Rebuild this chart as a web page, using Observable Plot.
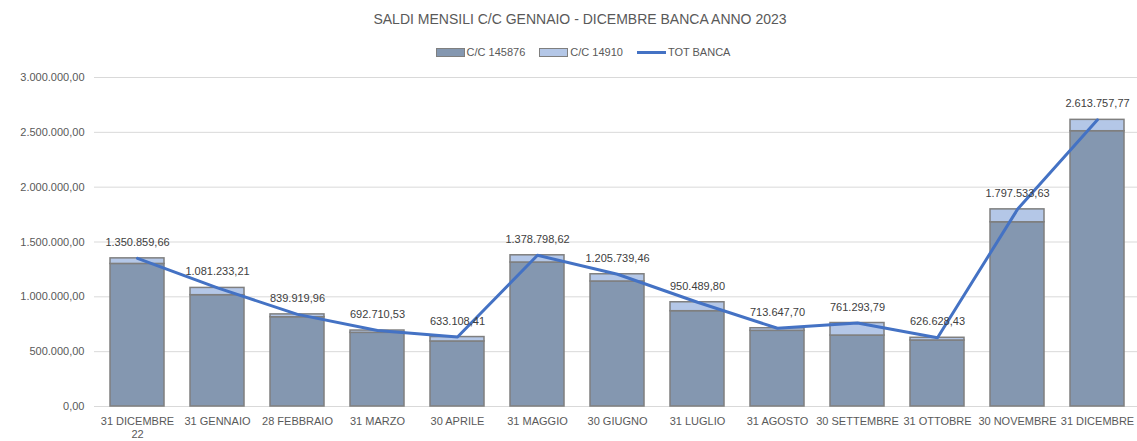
<!DOCTYPE html>
<html>
<head>
<meta charset="utf-8">
<script src="https://cdn.jsdelivr.net/npm/d3@7"></script>
<script src="https://cdn.jsdelivr.net/npm/@observablehq/plot@0.6"></script>
<style>
  body { margin: 0; background: #fff; font-family: "Liberation Sans", Arial, sans-serif; }
  #wrap { position: relative; width: 1137px; height: 441px; overflow: hidden; }
  #title { position: absolute; left: 0; top: 10px; width: 1160px; text-align: center; font-size: 14px; color: #595959; line-height: 18px; }
  #legend { position: absolute; left: 0; top: 45px; width: 1166px; display: flex; justify-content: center; gap: 14px; font-size: 11px; color: #595959; line-height: 14px; }
  .item { display: flex; align-items: center; }
  .sw { width: 27px; height: 7px; border: 1px solid #7f7f7f; margin-right: 2px; }
  .ln { width: 29px; height: 3px; background: #4472C4; margin-right: 2px; }
  #chart { position: absolute; left: 0; top: 65px; }
</style>
</head>
<body>
<div id="wrap">
  <div id="title">SALDI MENSILI C/C GENNAIO - DICEMBRE BANCA ANNO 2023</div>
  <div id="legend"></div>
  <div id="chart"></div>
</div>
<script>
const categories = ["31 DICEMBRE\n22", "31 GENNAIO", "28 FEBBRAIO", "31 MARZO", "30 APRILE", "31 MAGGIO", "30 GIUGNO", "31 LUGLIO", "31 AGOSTO", "30 SETTEMBRE", "31 OTTOBRE", "30 NOVEMBRE", "31 DICEMBRE"];
const cc145876 = [1300000, 1015000, 814000, 672000, 593000, 1313000, 1140000, 869000, 690000, 647000, 602000, 1680000, 2510000];
const cc14910 = [50860, 66233, 25920, 20711, 40108, 65799, 65739, 81490, 23648, 114294, 24628, 117534, 103758];
const totBanca = [1350859.66, 1081233.21, 839919.96, 692710.53, 633108.41, 1378798.62, 1205739.46, 950489.80, 713647.70, 761293.79, 626628.43, 1797533.63, 2613757.77];
const yTicks = [0, 500000, 1000000, 1500000, 2000000, 2500000, 3000000];
const seriesNames = ["C/C 145876", "C/C 14910", "TOT BANCA"];
const seriesColors = ["#8497B0", "#B4C7E7", "#4472C4"];

const it = d3.formatLocale({decimal: ",", thousands: ".", grouping: [3], currency: ["", "€"]});
const fmt = it.format(",.2f");

const barRows = [];
categories.forEach((c, i) => {
  barRows.push({cat: c, series: seriesNames[0], value: cc145876[i]});
  barRows.push({cat: c, series: seriesNames[1], value: cc14910[i]});
});
const lineRows = categories.map((c, i) => ({cat: c, value: totBanca[i]}));

// legend
const legend = document.getElementById("legend");
seriesNames.forEach((n, i) => {
  const item = document.createElement("div");
  item.className = "item";
  const sw = document.createElement("div");
  if (i < 2) { sw.className = "sw"; sw.style.background = seriesColors[i]; }
  else { sw.className = "ln"; }
  item.appendChild(sw);
  const t = document.createElement("span");
  t.textContent = n;
  item.appendChild(t);
  legend.appendChild(item);
});

const chart = Plot.plot({
  width: 1137,
  height: 376,
  marginLeft: 94,
  marginRight: -3,
  marginTop: 12,
  marginBottom: 35,
  style: {fontFamily: "'Liberation Sans', Arial, sans-serif", fontSize: "11px", color: "#595959", background: "white", overflow: "visible"},
  x: {domain: categories, paddingInner: 0.32, paddingOuter: 0.16, label: null},
  y: {domain: [0, 3000000], label: null},
  color: {domain: seriesNames.slice(0, 2), range: seriesColors.slice(0, 2)},
  marks: [
    Plot.gridY(yTicks, {stroke: "#D9D9D9", strokeOpacity: 1, strokeWidth: 1}),
    Plot.axisY(yTicks, {tickFormat: fmt, tickSize: 0, tickPadding: 10, label: null}),
    Plot.axisX({tickSize: 0, tickPadding: 10, lineHeight: 1.15, label: null}),
    Plot.barY(barRows, {x: "cat", y: "value", fill: "series", stroke: "#7F7F7F", strokeWidth: 1.5}),
    Plot.lineY(lineRows, {x: "cat", y: "value", stroke: seriesColors[2], strokeWidth: 3}),
    Plot.text(lineRows, {x: "cat", y: "value", text: d => fmt(d.value), dy: -16, fill: "#404040", fontSize: 11})
  ]
});
document.getElementById("chart").appendChild(chart);
</script>
</body>
</html>
